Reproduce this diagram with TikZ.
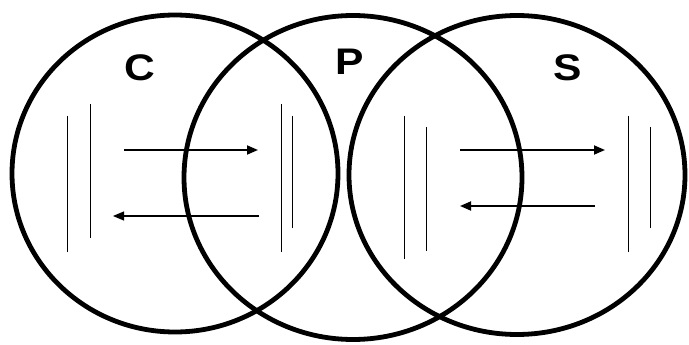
\documentclass[tikz,border=0pt]{standalone}
\usepackage{fontspec}
\setmainfont{Liberation Sans}
\usetikzlibrary{arrows.meta}
\definecolor{inkBlack}{RGB}{0, 0, 0}

\begin{document}
\begin{tikzpicture}[x=1pt, y=-1pt,
    ring/.style={draw=inkBlack, line width=4.8pt},
    plate/.style={draw=inkBlack, line width=0.9pt},
    flow/.style={draw=inkBlack, line width=1.8pt, -{Triangle[length=11pt, width=9pt]}},
    tag/.style={inner sep=0pt, xscale=1.15, font=\fontsize{37}{37}\selectfont\bfseries}]
    \useasboundingbox (0,0) rectangle (689,345);
    % the three rings
    \draw[ring] (175,173.5) ellipse (163pt and 158.5pt);
    \draw[ring] (353,177.5) ellipse (169pt and 162pt);
    \draw[ring] (517,175) ellipse (168pt and 159.5pt);
    \node[tag] (lblC) at (140,68) {C};
    \node[tag] (lblP) at (349.5,61.5) {P};
    \node[tag] (lblS) at (567.5,68) {S};
    % plates: name/x/top/bottom
    \foreach \n/\x/\ya/\yb in {c1/67/116/252, c2/90/104/238,
                               p1/281/104/252, p2/292/116/228,
                               p3/404/116/259, p4/426/127/251,
                               s1/628/116/252, s2/650/127/228} {
      \coordinate (\n t) at (\x,\ya);
      \coordinate (\n b) at (\x,\yb);
      \draw[plate] (\n t) -- (\n b);
    }
    % arrow ends
    \coordinate (a1) at (124,150);
    \coordinate (a2) at (258,150);
    \coordinate (b1) at (259,216);
    \coordinate (b2) at (113,216);
    \coordinate (a3) at (460,150);
    \coordinate (a4) at (605,150);
    \coordinate (b3) at (595,206);
    \coordinate (b4) at (460,206);
    \draw[flow] (a1) -- (a2);
    \draw[flow, line width=1.2pt] (b1) -- (b2);
    \draw[flow] (a3) -- (a4);
    \draw[flow] (b3) -- (b4);
  \end{tikzpicture}
\end{document}
